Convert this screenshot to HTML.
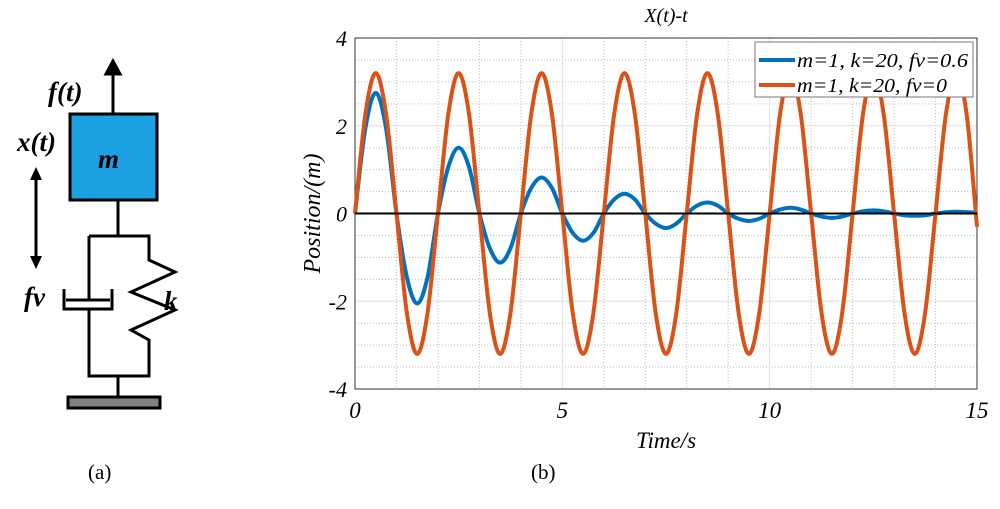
<!DOCTYPE html>
<html><head><meta charset="utf-8"><style>
body{margin:0;background:#fff;width:1000px;height:504px;overflow:hidden}
svg text{font-family:"Liberation Serif",serif}
</style></head><body>
<svg width="1000" height="504" viewBox="0 0 1000 504">
<g stroke="#000" stroke-width="3" fill="none">
  <line x1="113" y1="114" x2="113" y2="72"/>
  <polygon points="106,74 120,74 113,61" fill="#000"/>
  <rect x="70" y="114" width="87" height="86" fill="#1ba1e2"/>
  <line x1="118" y1="200" x2="118" y2="236"/>
  <line x1="36" y1="178" x2="36" y2="258"/>
  <polygon points="30,180 42,180 36,167" fill="#000" stroke="none"/>
  <polygon points="30,256 42,256 36,269" fill="#000" stroke="none"/>
  <polyline points="89,236 149,236 149,260 175,272 131,292 175,310 131,330 149,340 149,376 89,376 89,308"/>
  <line x1="89" y1="236" x2="89" y2="300"/>
  <polyline points="64,289 64,309 112,309 112,289"/>
  <line x1="66" y1="300" x2="110" y2="300"/>
  <line x1="118" y1="376" x2="118" y2="397"/>
  <rect x="68" y="397" width="92" height="11" fill="#808080"/>
</g>
<g font-style="italic" font-weight="bold" font-size="27">
  <text x="48" y="101">f(t)</text>
  <text x="17" y="151">x(t)</text>
  <text x="98" y="168">m</text>
  <text x="24" y="306">fv</text>
  <text x="164" y="310">k</text>
</g>
<text x="88" y="479" font-size="21">(a)</text>
<text x="531" y="479" font-size="21">(b)</text>
<g id="chart"></g>
</svg>
<script>
const times=[];for(let i=0;i<=60;i++)times.push(i*0.25);
const xTicks=[0,5,10,15];
const yTicks=[-4,-2,0,2,4];
const seriesDamped=[0,1.94,2.75,1.94,0,-1.45,-2.05,-1.45,0,1.06,1.5,1.06,0,-0.79,-1.12,-0.79,0,0.58,0.82,0.58,0,-0.44,-0.62,-0.44,0,0.32,0.45,0.32,0,-0.23,-0.33,-0.23,0,0.18,0.25,0.18,0,-0.12,-0.17,-0.12,0,0.09,0.13,0.09,0,-0.07,-0.10,-0.07,0,0.05,0.07,0.05,0,-0.04,-0.05,-0.04,0,0.03,0.04,0.03,0.02];
const seriesUndamped=[0,2.26,3.2,2.26,0,-2.26,-3.2,-2.26,0,2.26,3.2,2.26,0,-2.26,-3.2,-2.26,0,2.26,3.2,2.26,0,-2.26,-3.2,-2.26,0,2.26,3.2,2.26,0,-2.26,-3.2,-2.26,0,2.26,3.2,2.26,0,-2.26,-3.2,-2.26,0,2.26,3.2,2.26,0,-2.26,-3.2,-2.26,0,2.26,3.2,2.26,0,-2.26,-3.2,-2.26,0,2.26,3.2,2.26,-0.3];
const legendLabels=["m=1, k=20, fv=0.6","m=1, k=20, fv=0"];
const L=355,R=977,T=38,B=389;
const sx=t=>L+(t-0)/15*(R-L);
const sy=v=>T+(4-v)/8*(B-T);
const NS="http://www.w3.org/2000/svg";
const g=document.getElementById('chart');
function mk(tag,attrs,parent){const e=document.createElementNS(NS,tag);for(const k in attrs)e.setAttribute(k,attrs[k]);(parent||g).appendChild(e);return e;}
for(let t=1;t<15;t++){if(t%5===0)continue;const e=mk('line',{x1:sx(t),x2:sx(t),y1:T,y2:B,stroke:'#bdbdbd','stroke-dasharray':'1 2','stroke-width':1});

}
for(let v=-3.5;v<4;v+=0.5){if(v%2===0)continue;const e=mk('line',{x1:L,x2:R,y1:sy(v),y2:sy(v),stroke:'#bdbdbd','stroke-dasharray':'1 2','stroke-width':1});

}
xTicks.forEach(t=>{const e=mk('line',{x1:sx(t),x2:sx(t),y1:T,y2:B,stroke:'#e0e0e0','stroke-width':1});


const tx=mk('text',{x:sx(t),y:B+29,'text-anchor':'middle','font-size':23,'font-style':'italic'});tx.textContent=t;

});
yTicks.forEach(v=>{const e=mk('line',{x1:L,x2:R,y1:sy(v),y2:sy(v),stroke:'#e0e0e0','stroke-width':1});


const tx=mk('text',{x:L-8,y:sy(v)+8,'text-anchor':'end','font-size':22,'font-style':'italic'});tx.textContent=v;

});
const box=mk('rect',{x:L,y:T,width:R-L,height:B-T,fill:'none',stroke:'#333','stroke-width':1});


function path(vals){const p=times.map((t,i)=>[sx(t),sy(vals[i])]);let d='M'+p[0][0]+','+p[0][1];
for(let i=0;i<p.length-1;i++){const p0=p[Math.max(0,i-1)],p1=p[i],p2=p[i+1],p3=p[Math.min(p.length-1,i+2)];
d+=' C'+(p1[0]+(p2[0]-p0[0])/6)+','+(p1[1]+(p2[1]-p0[1])/6)+' '+(p2[0]-(p3[0]-p1[0])/6)+','+(p2[1]-(p3[1]-p1[1])/6)+' '+p2[0]+','+p2[1];}return d;}
const s1=mk('path',{d:path(seriesDamped),fill:'none',stroke:'#0072bd','stroke-width':4});


const s2=mk('path',{d:path(seriesUndamped),fill:'none',stroke:'#d95319','stroke-width':4});


const zl=mk('line',{x1:L,x2:R,y1:sy(0),y2:sy(0),stroke:'#000','stroke-width':2});


const lg=mk('rect',{x:755,y:42,width:218,height:55,fill:'#fff',stroke:'#777','stroke-width':1});


['#0072bd','#d95319'].forEach((c,i)=>{const y=60+i*25;const ln=mk('line',{x1:759,x2:795,y1:y,y2:y,stroke:c,'stroke-width':4});


const tx=mk('text',{x:797,y:y+7,'font-size':20,'font-style':'italic',textLength:i===0?171:150,lengthAdjust:'spacingAndGlyphs'});tx.textContent=legendLabels[i];

});
const ti=mk('text',{x:(L+R)/2,y:22,'text-anchor':'middle','font-size':20,'font-style':'italic'});ti.textContent='X(t)-t';


const xl=mk('text',{x:(L+R)/2,y:448,'text-anchor':'middle','font-size':23,'font-style':'italic'});xl.textContent='Time/s';


const yl=mk('text',{x:0,y:0,'text-anchor':'middle','font-size':24,'font-style':'italic',transform:'translate(320,'+((T+B)/2)+') rotate(-90)'});yl.textContent='Position/(m)';


</script>
</body></html>
